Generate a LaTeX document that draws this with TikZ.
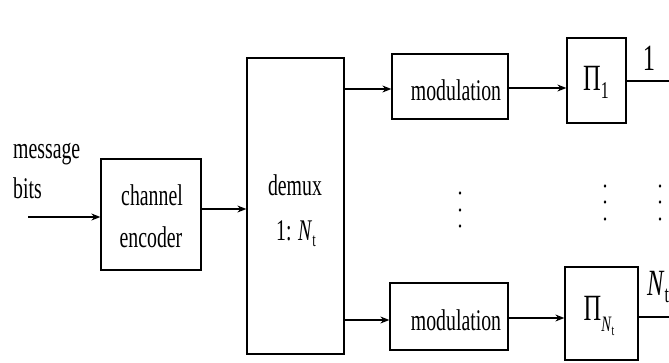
\documentclass[tikz,border=0pt]{standalone}
\usepackage{fontspec}
\setmainfont{Liberation Serif}
\usetikzlibrary{arrows.meta}
\newcommand{\hs}[1]{\scalebox{0.66}[1]{#1}}
\newcommand{\lowsub}[3]{\raisebox{#1}{\fontsize{#2}{#2}\selectfont #3}}
\begin{document}
\begin{tikzpicture}[x=1pt,y=-1pt,
  box/.style={draw, line width=1.3pt, inner sep=0pt, fill=white},
  txt/.style={inner sep=0pt, anchor=base, font=\fontsize{30}{36}\selectfont},
  big/.style={inner sep=0pt, anchor=base, font=\fontsize{37}{40}\selectfont},
  arr/.style={line width=1.2pt, -{Stealth[length=9pt,width=7pt]}},
  ln/.style={line width=1.2pt}]
\useasboundingbox (0,0) rectangle (669,362);
% boxes
\node[box, minimum width=100pt, minimum height=111pt] (enc) at (151,214.5) {};
\node[box, minimum width=97pt, minimum height=296pt] (demux) at (295.5,206) {};
\node[box, minimum width=116pt, minimum height=65pt] (mod1) at (450,86.5) {};
\node[box, minimum width=118pt, minimum height=67pt] (mod2) at (449,316.5) {};
\node[box, minimum width=59pt, minimum height=85pt] (pi1) at (596.5,80.5) {};
\node[box, minimum width=73pt, minimum height=93pt] (pi2) at (601.5,313.5) {};
% texts
\node[txt, anchor=base west] (msg) at (13,158) {\hs{message}};
\node[txt, anchor=base west] (bits) at (13,198) {\hs{bits}};
\node[txt] (ch) at (152,205) {\hs{channel}};
\node[txt] (en) at (151,247) {\hs{encoder}};
\node[txt] (dm) at (295,195) {\hs{demux}};
\node[txt] (ratio) at (296,240) {\hs{1: \textit{N}\lowsub{-0.2em}{19}{t}}};
\node[txt] (m1t) at (456,100) {\hs{modulation}};
\node[txt] (m2t) at (456,330) {\hs{modulation}};
\node[big] (p1t) at (596,90) {\hs{Π\lowsub{-0.22em}{24}{1}}};
\node[big] (p2t) at (599,320) {\hs{Π\lowsub{-0.3em}{22}{\textit{N}\lowsub{-0.2em}{15}{t}}}};
\node[big] (l1) at (649,70) {\hs{1}};
\node[big, anchor=base west] (l2) at (647,295) {\hs{\textit{N}\lowsub{-0.2em}{24}{t}}};
% coordinates
\coordinate (in) at (28,217);
\coordinate (o1) at (669,81);
\coordinate (o2) at (669,317);
% connectors
\draw[arr] (in) -- (enc.west |- in);
\draw[arr] (enc.east |- 0,209) -- (demux.west |- 0,209);
\draw[arr] (demux.east |- 0,89) -- (mod1.west |- 0,89);
\draw[arr] (demux.east |- 0,320) -- (mod2.west |- 0,320);
\draw[arr] (mod1.east |- 0,88) -- (pi1.west |- 0,88);
\draw[arr] (mod2.east |- 0,318) -- (pi2.west |- 0,318);
\draw[ln] (pi1.east |- o1) -- (o1);
\draw[ln] (pi2.east |- o2) -- (o2);
% dots
\foreach \yy in {193,210,226} \fill (460,\yy) ellipse (1.3 and 1.8);
\foreach \yy in {186,202,219} {\fill (605,\yy) ellipse (1.3 and 1.8); \fill (660,\yy) ellipse (1.3 and 1.8);}
\end{tikzpicture}
\end{document}
